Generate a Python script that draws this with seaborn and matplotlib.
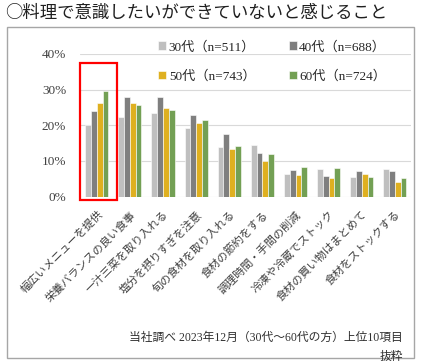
import pandas as pd
import seaborn as sns
import matplotlib.pyplot as plt
from matplotlib.patches import Rectangle

# Datos (porcentaje)
items = ['幅広いメニューを提供', '栄養バランスの良い食事', '一汁三菜を取り入れる',
         '塩分を摂りすぎを注意', '旬の食材を取り入れる', '食材の節約をする',
         '調理時間・手間の削減', '冷凍や冷蔵でストック', '食材の買い物はまとめて',
         '食材をストックする']
groups = ['30代（n=511）', '40代（n=688）', '50代（n=743）', '60代（n=724）']
v30 = [20.0, 22.2, 23.5, 19.2, 13.8, 14.4, 6.2, 7.8, 5.5, 7.8]
v40 = [24.1, 28.0, 27.8, 22.8, 17.6, 12.2, 7.5, 5.8, 7.2, 7.2]
v50 = [26.2, 26.2, 24.8, 20.6, 13.4, 9.9, 6.1, 5.2, 6.3, 4.1]
v60 = [29.7, 25.6, 24.3, 21.5, 14.3, 11.9, 8.2, 8.0, 5.4, 5.2]
yticks = [0, 10, 20, 30, 40]
colors = ['#bfbfbf', '#7f7f7f', '#ffc000', '#70ad47']

df = pd.DataFrame({'item': items * 4,
                   'group': [g for g in groups for _ in items],
                   'value': v30 + v40 + v50 + v60})

sns.set_style('white')
plt.rcParams['font.family'] = ['Liberation Serif', 'Noto Sans CJK JP', 'DejaVu Sans']

fig = plt.figure(figsize=(4.22, 3.64), dpi=100)
ax = fig.add_axes([0.19, 0.46, 0.785, 0.392])

sns.barplot(data=df, x='item', y='value', hue='group', palette=colors,
            width=0.7, edgecolor='white', linewidth=0.4, ax=ax, zorder=3)

ax.set_ylim(0, 40)
ax.set_yticks(yticks)
ax.set_yticklabels([f'{t}%' for t in yticks], fontsize=9.5, color='#404040')
ax.yaxis.grid(True, color='#d9d9d9', linewidth=0.8, zorder=0)
ax.tick_params(axis='y', length=0, pad=10)
ax.tick_params(axis='x', length=0, pad=9)
plt.setp(ax.get_xticklabels(), rotation=45, ha='right', rotation_mode='anchor',
         fontsize=8, color='#404040')
for s in ax.spines.values():
    s.set_visible(False)
ax.set_xlabel('')
ax.set_ylabel('')

# Leyenda en dos filas (30代, 40代 arriba)
handles, labels = ax.get_legend_handles_labels()
order = [0, 2, 1, 3]
ax.legend([handles[i] for i in order], [labels[i] for i in order],
          loc='upper left', bbox_to_anchor=(0.2, 1.175), ncol=2, frameon=False,
          fontsize=9.5, handlelength=0.6, handleheight=0.6, handletextpad=0.2,
          columnspacing=2.5, labelspacing=1.25)

# Recuadro rojo en la primera categoría
ax.add_patch(Rectangle((-0.5, -0.9), 1.1, 38.3, fill=False, edgecolor='red',
                       linewidth=1.6, clip_on=False, zorder=5))

# Marco del gráfico
fig.add_artist(Rectangle((7 / 422, 1 - 358 / 364), 407 / 422, 331 / 364,
                         transform=fig.transFigure, fill=False,
                         edgecolor='#a6a6a6', linewidth=1.0))

fig.text(0.012, 0.963, '○料理で意識したいができていないと感じること',
         fontsize=12.5, va='center', ha='left', color='#202020',
         family=['Noto Sans CJK JP', 'DejaVu Sans'])
fig.text(0.955, 0.072, '当社調べ 2023年12月（30代～60代の方）上位10項目',
         fontsize=8.5, ha='right', va='center', color='#303030')
fig.text(0.955, 0.02, '抜粋', fontsize=8.5, ha='right', va='center', color='#303030')

plt.savefig('out.png', dpi=100)
plt.close()
